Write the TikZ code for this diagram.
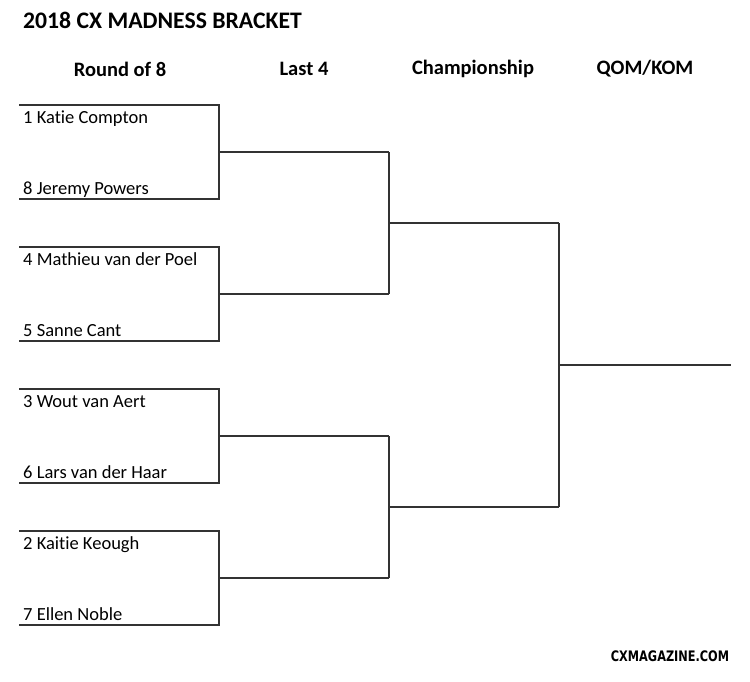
\documentclass[tikz,border=0pt]{standalone}
\usepackage{fontspec}
\setmainfont{Carlito}[Ligatures={NoCommon}]
\newfontfamily\wmfont{DejaVu Sans}
\begin{document}
\begin{tikzpicture}[x=1pt,y=-1pt,
  ln/.style={draw=black!80,line width=1.1pt},
  nm/.style={anchor=base west,inner sep=0pt,font=\fontsize{18.5}{21}\selectfont},
  hd/.style={anchor=center,inner sep=0pt,font=\fontsize{20.5}{24}\selectfont\bfseries},
  ttl/.style={anchor=west,inner sep=0pt,font=\fontsize{23.7}{28}\selectfont\bfseries}]
\useasboundingbox (0,0) rectangle (750,681);
\node[ttl] (title) at (23,20) {2018 CX MADNESS BRACKET};
\node[hd] (h1) at (120,69) {Round of 8};
\node[hd] (h2) at (304,69) {Last 4};
\node[hd] (h3) at (473,69) {Championship};
\node[hd] (h4) at (645,69) {QOM/KOM};
% round of 8 lines
\foreach \i/\ya/\yb in {1/105/199,2/247/341,3/389/483,4/531/625}{
  \coordinate (a\i) at (19,\ya);
  \coordinate (b\i) at (19,\yb);
  \coordinate (ae\i) at (219,\ya);
  \coordinate (be\i) at (219,\yb);
  \coordinate (m\i) at (219,{(\ya+\yb)/2});
  \coordinate (me\i) at (389,{(\ya+\yb)/2});
  \draw[ln] (a\i) -- (ae\i) -- (be\i) -- (b\i);
  \draw[ln] (m\i) -- (me\i);
}
% last 4
\draw[ln] (me1) -- (me2);
\draw[ln] (me3) -- (me4);
\coordinate (s1) at (389,223);
\coordinate (se1) at (559,223);
\coordinate (s2) at (389,507);
\coordinate (se2) at (559,507);
\draw[ln] (s1) -- (se1);
\draw[ln] (s2) -- (se2);
\draw[ln] (se1) -- (se2);
\coordinate (c) at (559,365);
\coordinate (ce) at (731,365);
\draw[ln] (c) -- (ce);
% names
\node[nm] (n1) at (23,123) {1 Katie Compton};
\node[nm] (n8) at (23,194) {8 Jeremy Powers};
\node[nm] (n4) at (23,265) {4 Mathieu van der Poel};
\node[nm] (n5) at (23,336) {5 Sanne Cant};
\node[nm] (n3) at (23,407) {3 Wout van Aert};
\node[nm] (n6) at (23,478) {6 Lars van der Haar};
\node[nm] (n2) at (23,549) {2 Kaitie Keough};
\node[nm] (n7) at (23,620) {7 Ellen Noble};
\node[inner sep=0pt,font=\wmfont\bfseries\fontsize{14.5}{16}\selectfont,xscale=0.78] (wm) at (670,656) {CXMAGAZINE.COM};
\end{tikzpicture}
\end{document}
